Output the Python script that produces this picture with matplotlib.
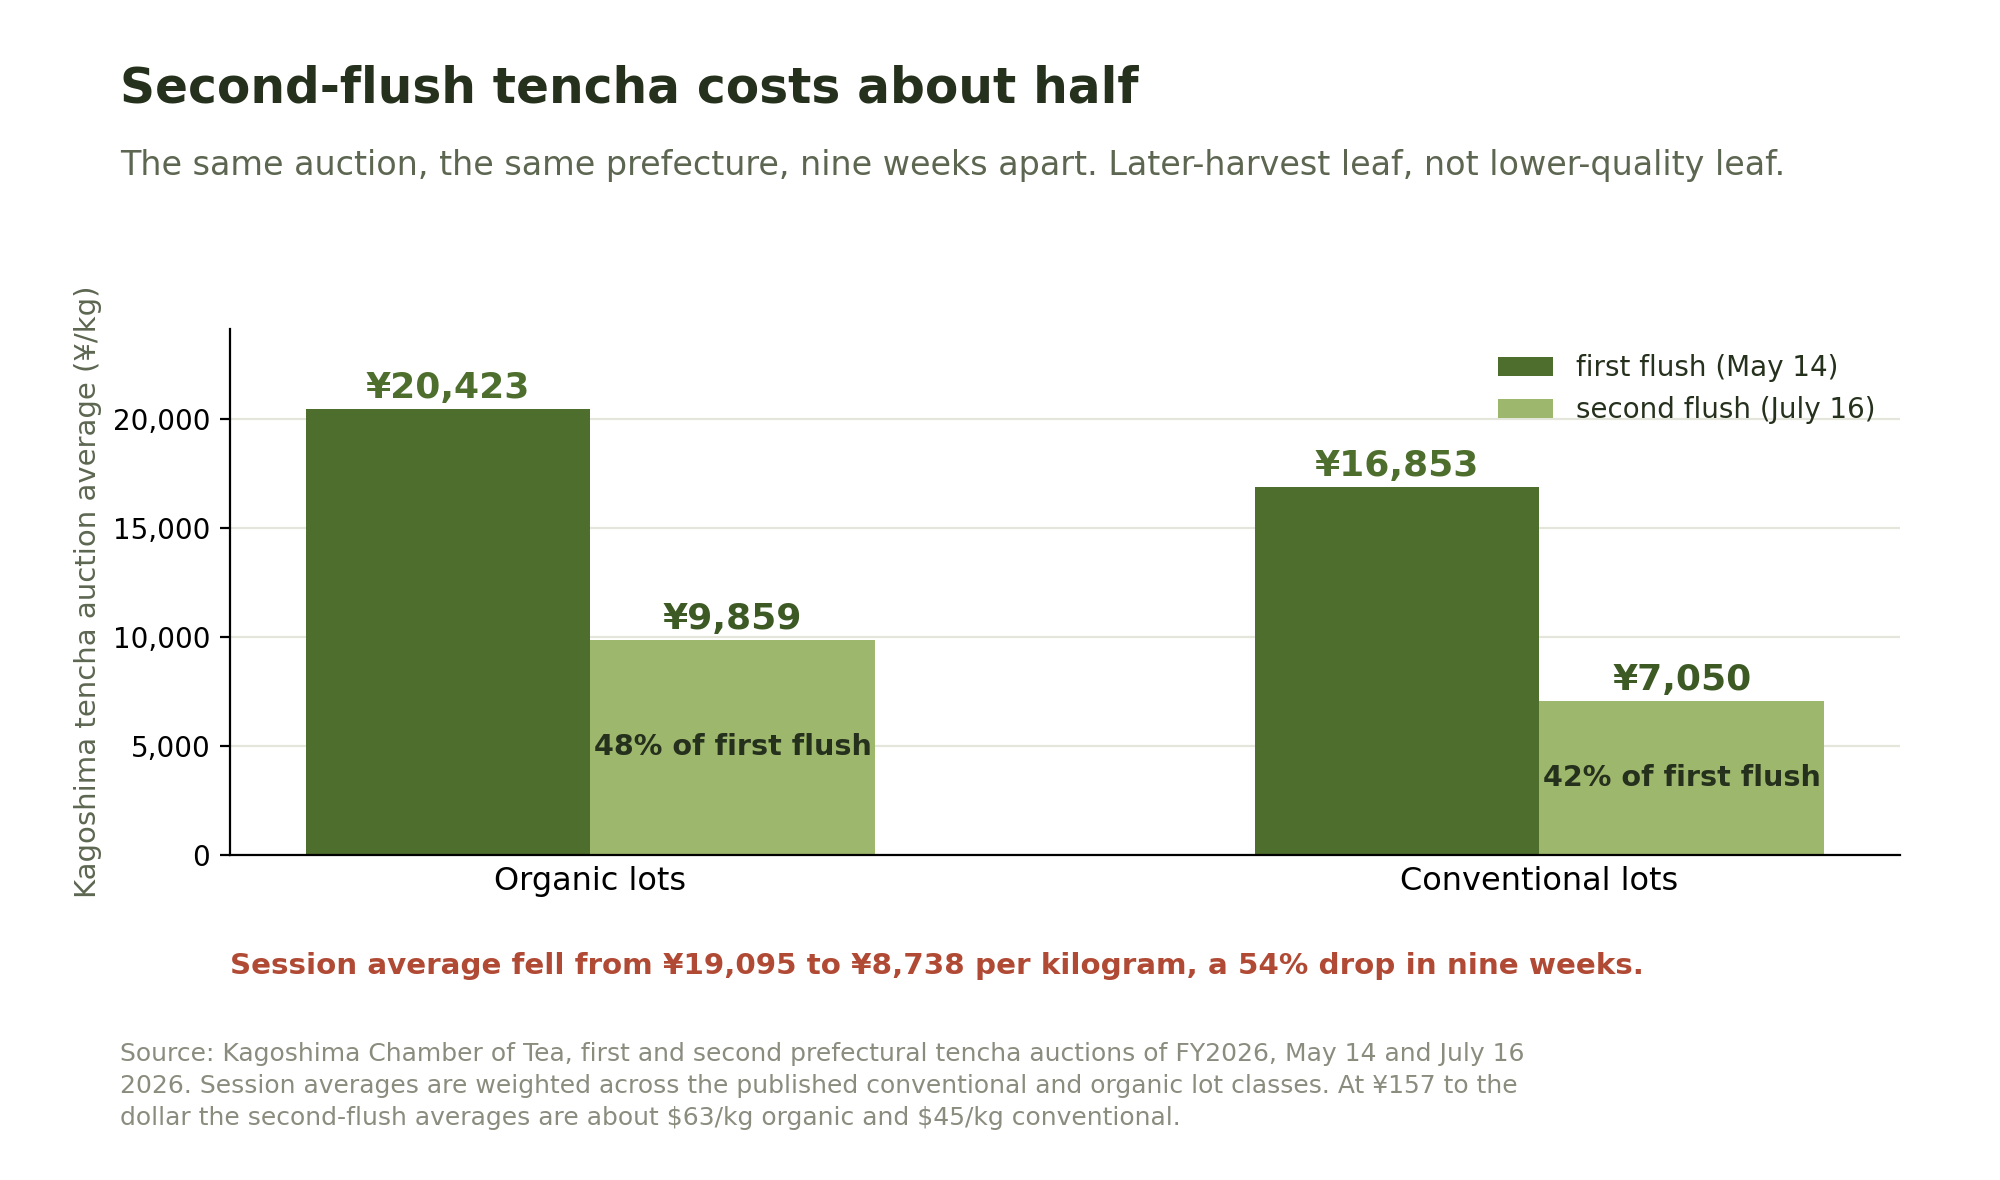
import matplotlib
matplotlib.use("Agg")
import matplotlib.pyplot as plt
import numpy as np

categories = ["Organic lots", "Conventional lots"]
first_flush = [20423, 16853]
second_flush = [9859, 7050]
series_names = ["first flush (May 14)", "second flush (July 16)"]
share_labels = ["48% of first flush", "42% of first flush"]
y_ticks = [0, 5000, 10000, 15000, 20000]

TITLE = "Second-flush tencha costs about half"
SUBTITLE = ("The same auction, the same prefecture, nine weeks apart. "
            "Later-harvest leaf, not lower-quality leaf.")
CALLOUT = ("Session average fell from ¥19,095 to ¥8,738 per kilogram, "
           "a 54% drop in nine weeks.")
SOURCE = ("Source: Kagoshima Chamber of Tea, first and second prefectural tencha auctions of FY2026, May 14 and July 16\n"
          "2026. Session averages are weighted across the published conventional and organic lot classes. At ¥157 to the\n"
          "dollar the second-flush averages are about $63/kg organic and $45/kg conventional.")

DARK = "#4e6e2e"
LIGHT = "#9db76d"
INK = "#26311d"
MUTED = "#5c6650"

plt.rcParams["font.family"] = ["DejaVu Sans"]

fig = plt.figure(figsize=(10, 5.9), dpi=200)
ax = fig.add_axes([0.1148, 0.2757, 0.8352, 0.4453])

x = np.arange(len(categories))
w = 0.3
b1 = ax.bar(x - w / 2, first_flush, w, color=DARK, label=series_names[0], zorder=2)
b2 = ax.bar(x + w / 2, second_flush, w, color=LIGHT, label=series_names[1], zorder=2)

for rect, v in zip(b1, first_flush):
    ax.annotate(f"¥{v:,}", (rect.get_x() + rect.get_width() / 2, v),
                xytext=(0, 1.5), textcoords="offset points", ha="center", va="bottom",
                fontsize=13, fontweight="bold", color=DARK)
for rect, v, lab in zip(b2, second_flush, share_labels):
    cx = rect.get_x() + rect.get_width() / 2
    ax.annotate(f"¥{v:,}", (cx, v),
                xytext=(0, 1.5), textcoords="offset points", ha="center", va="bottom",
                fontsize=13, fontweight="bold", color="#3d5a24")
    ax.text(cx, v / 2, lab, ha="center", va="center",
            fontsize=10.3, fontweight="bold", color=INK)

ax.set_ylim(0, 24100)
ax.set_yticks(y_ticks)
ax.yaxis.set_major_formatter(matplotlib.ticker.FuncFormatter(lambda v, p: f"{v:,.0f}"))
ax.set_xticks(x)
ax.set_xticklabels(categories, fontsize=11.5)
ax.tick_params(axis="x", length=0, pad=4)
ax.tick_params(axis="y", labelsize=10)
ax.grid(axis="y", color="#e4e6dc", linewidth=0.8, zorder=0)
ax.set_axisbelow(True)
for side in ["top", "right"]:
    ax.spines[side].set_visible(False)
ax.set_ylabel("Kagoshima tencha auction average (¥/kg)", fontsize=10.5, color=MUTED, labelpad=3.8)

leg = ax.legend(loc="upper right", frameon=False, fontsize=10, handlelength=2.0,
                borderaxespad=0.5)
for t in leg.get_texts():
    t.set_color(INK)

fig.text(0.060, 0.913, TITLE, fontsize=17.5, fontweight="bold", color=INK)
fig.text(0.060, 0.852, SUBTITLE, fontsize=12, color=MUTED)
fig.text(0.1148, 0.175, CALLOUT, fontsize=10.6, fontweight="bold", color="#b04a35")
fig.text(0.060, 0.047, SOURCE, fontsize=9, color="#8a8c7e", linespacing=1.4,
         parse_math=False)

fig.savefig("out.png", dpi=200)
